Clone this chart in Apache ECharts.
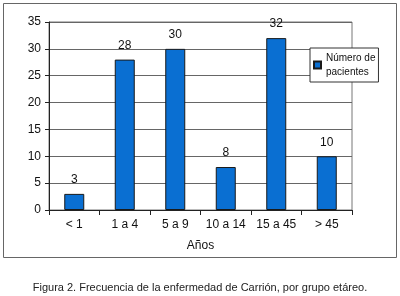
<!DOCTYPE html>
<html>
<head>
<meta charset="utf-8">
<script src="https://cdn.jsdelivr.net/npm/echarts@6/dist/echarts.min.js"></script>
<style>
  html, body { margin: 0; padding: 0; background: #fff; }
  #chart { width: 400px; height: 296px; }
</style>
</head>
<body>
<div id="chart"></div>
<script>
// datos
const categories = ["< 1", "1 a 4", "5 a 9", "10 a 14", "15 a 45", "> 45"];
const pacientes = [3, 28, 30, 8, 32, 10];
const seriesName = "Número de\npacientes";

const chart = echarts.init(document.getElementById("chart"));
const font = "Liberation Sans, Arial, sans-serif";

chart.setOption({
  animation: false,
  title: {
    text: "Figura 2. Frecuencia de la enfermedad de Carrión, por grupo etáreo.",
    left: "center",
    top: 277,
    textStyle: { fontFamily: font, fontSize: 11, fontWeight: "normal", color: "#222" },
  },
  graphic: [
    {
      type: "rect",
      shape: { x: 3.5, y: 3.5, width: 393, height: 254 },
      style: { fill: "none", stroke: "#666", lineWidth: 1 },
      z: -1,
    },
  ],
  legend: {
    left: 310,
    top: 48,
    orient: "vertical",
    icon: "rect",
    itemWidth: 7,
    itemHeight: 7,
    itemGap: 0,
    padding: [3, 3, 3, 3],
    borderColor: "#333",
    borderWidth: 1,
    backgroundColor: "#fff",
    textStyle: {
      fontFamily: font,
      fontSize: 10,
      color: "#111",
      lineHeight: 14,
      align: "center",
    },
    data: [seriesName],
  },
  grid: {
    left: 49,
    right: 48,
    top: 22,
    bottom: 86,
    show: true,
    borderColor: "#777",
    borderWidth: 1,
  },
  xAxis: {
    type: "category",
    data: categories,
    name: "Años",
    nameLocation: "middle",
    nameGap: 30,
    nameTextStyle: { fontFamily: font, fontSize: 12, color: "#111" },
    axisLine: { lineStyle: { color: "#222", width: 1 } },
    axisTick: { show: true, length: 5, lineStyle: { color: "#222" } },
    axisLabel: { fontFamily: font, fontSize: 12, color: "#111", margin: 9, interval: 0 },
  },
  yAxis: {
    type: "value",
    min: 0,
    max: 35,
    interval: 5,
    axisLine: { show: true, lineStyle: { color: "#222", width: 1 } },
    axisTick: { show: true, length: 4, lineStyle: { color: "#222" } },
    axisLabel: { fontFamily: font, fontSize: 12, color: "#111", margin: 8 },
    splitLine: { lineStyle: { color: "#666", width: 1 } },
  },
  series: [
    {
      name: seriesName,
      type: "bar",
      data: pacientes,
      barWidth: 20,
      itemStyle: { color: "#0a6fd2", borderColor: "#1a1a1a", borderWidth: 1 },
      label: {
        show: true,
        position: "top",
        distance: 8,
        fontFamily: font,
        fontSize: 12,
        color: "#111",
      },
    },
  ],
});
</script>
</body>
</html>
